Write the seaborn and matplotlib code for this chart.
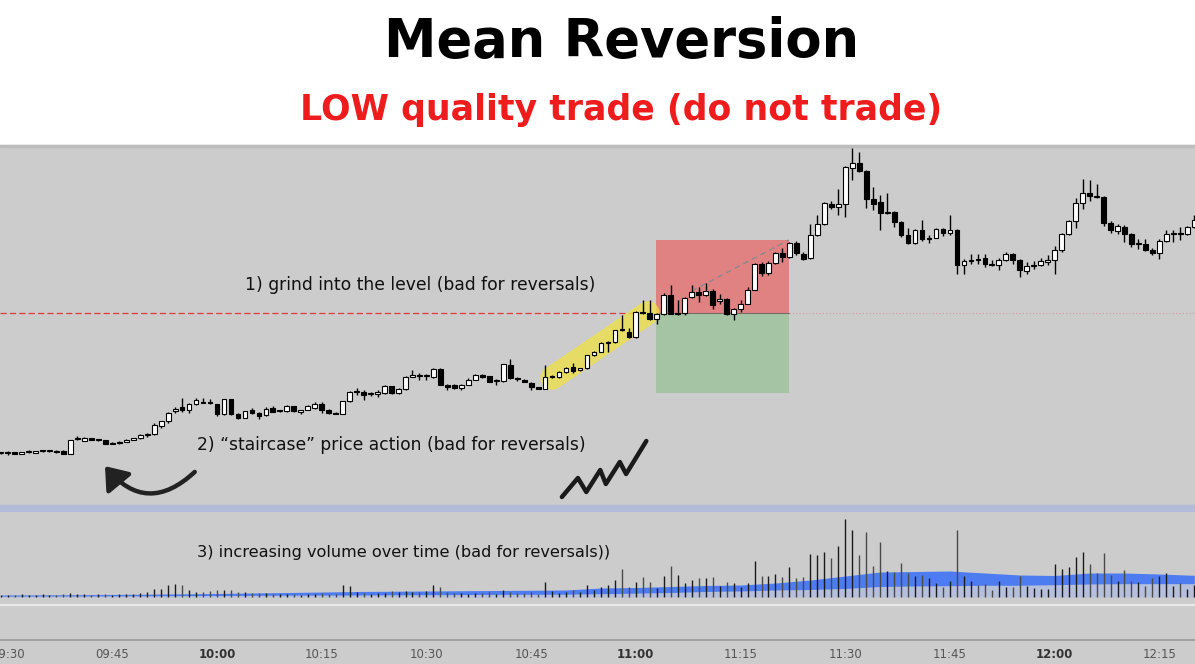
import numpy as np
import pandas as pd
import matplotlib
matplotlib.use("Agg")
import matplotlib.pyplot as plt
import seaborn as sns
from matplotlib.patches import Rectangle, FancyArrowPatch

# 1-minute candles, first one at 09:29 (minute -1 from the open)
opens = [52, 52, 53, 51, 53, 52, 54, 54, 54, 54, 51, 66, 64.5, 67, 65, 65, 61.5, 62, 63.5, 65.5,
         67, 70.5, 71, 79, 84, 94, 98, 95, 101, 103, 102.5, 101, 91, 106, 91, 87.5, 95, 92, 90, 97,
         94, 94, 99, 93, 95.5, 97, 101.5, 95, 92, 91.5, 104, 113, 113.5, 111, 111.5, 112, 119, 112, 116, 128.5,
         130, 129, 128, 136, 120, 120.5, 117, 120.5, 125.5, 130, 129, 124, 124, 140, 127, 125.5, 122, 118, 116.5, 128,
         128, 133, 138, 135, 137, 150, 153.5, 162, 163, 176, 173, 168, 193, 192.5, 186, 191.5, 210, 191.5, 192, 208,
         213, 210, 214.5, 204, 206, 191, 196.5, 201.5, 215.5, 241.5, 232.5, 242.5, 252.5, 248, 262.5, 251.5, 247, 270, 281, 301.5,
         298.5, 301.5, 337, 342, 334.5, 306, 303.5, 292, 293, 283.5, 270, 262, 275.5, 266, 267.5, 276.5, 272, 275, 240, 244.5,
         245.5, 247, 241, 240.5, 245.5, 251.5, 245, 234.5, 239.5, 240, 243.5, 245.5, 255, 271, 284, 302.5, 312, 309, 308, 282.5,
         274.5, 278.5, 271.5, 261, 261.5, 255, 252, 264, 271, 272, 271, 278]
highs = [53, 54, 53, 53, 55, 54, 55, 54.5, 55, 55, 65, 69, 68.5, 67.5, 66, 65, 63, 64, 66, 67.5,
         71, 72, 82, 84.5, 93, 98, 107, 102, 107, 107, 106, 101, 106.5, 106.5, 92, 94.5, 97, 93, 98, 99,
         95, 100, 99.5, 95.5, 100, 103, 103, 96, 93, 104.5, 114, 117, 115, 113, 115, 120, 119, 117, 129, 135,
         132, 131, 137, 137, 121, 121, 121, 127, 131, 131, 129.5, 126, 141.5, 146, 128, 126, 123, 118.5, 140, 130,
         134, 138, 142, 137.5, 150.5, 154, 163, 164, 175.5, 190, 177, 194, 205, 205, 192, 212, 220, 205, 208, 220,
         218, 222, 216, 211, 207, 197, 205, 218, 242, 243, 244, 253, 257, 263.5, 264, 253, 281, 290, 303.5, 304,
         316, 339, 357, 353, 335, 318, 310, 312, 294, 284, 277, 276, 285, 270, 277, 277, 290, 276, 246.5, 251.5,
         251.5, 251, 245, 247, 253, 252, 246, 243, 244, 247, 250, 259, 272, 285, 307, 326.5, 325, 321.5, 309, 284,
         281, 280, 272, 266.5, 266, 257, 266, 275, 275, 278, 279, 290]
lows = [51, 50, 51, 51, 52, 52, 53, 53.5, 52, 51, 51, 65, 64, 65, 64, 61, 61, 61.5, 63, 65,
        66.5, 68, 70.5, 77, 82, 92, 93, 92, 100, 102, 101.5, 89, 90, 90.5, 86, 87, 91.5, 86, 89, 93,
        93, 93, 93.5, 91.5, 95, 96.5, 92, 91.5, 91, 91, 103, 110, 105, 109, 108, 111, 111.5, 111.5, 115.5, 128,
        125, 125, 127.5, 120, 115, 116.5, 115.5, 120, 125, 127, 123, 120, 123, 126, 124, 123, 115.5, 116.5, 116, 127,
        127, 132.5, 132, 134.5, 136, 149, 153, 153, 162.5, 174.5, 167, 167.5, 191, 185.5, 181.5, 190, 191, 190, 190, 207,
        203, 209, 196.5, 201, 190.5, 185, 193, 201, 215, 229.5, 230, 241, 243, 247, 250, 245.5, 246, 269, 280, 296,
        290, 288, 325, 333.5, 297, 295, 275, 291, 278, 268, 261.5, 261, 264, 262, 267, 269.5, 270, 231.5, 231.5, 241.5,
        241.5, 238, 239.5, 235, 244, 241.5, 228, 231.5, 236, 239.5, 240, 231.5, 253.5, 270, 277.5, 296.5, 304, 307, 279, 272,
        271.5, 263, 258.5, 256.5, 254, 250, 246.5, 263, 263, 265, 270, 277]
closes = [52, 52.5, 51, 53, 53, 54, 54, 54, 53, 51, 65, 66, 67, 65, 65.5, 61, 62, 63.5, 65.5, 67,
          70.5, 71, 80, 84, 92, 96.5, 95, 101, 105, 102.5, 102, 91, 106, 91, 87.5, 94, 92, 89.5, 96.5, 93.5,
          94.5, 99, 94, 95, 99, 101.5, 95, 92, 91.5, 104, 113, 113.5, 110.5, 111.5, 113, 119, 112, 116.5, 128, 130,
          129, 129.5, 136, 120.5, 118.5, 117, 120.5, 125.5, 130, 128, 123.5, 124.5, 141, 127, 126, 123.5, 118, 116.5, 128, 128.5,
          133, 137, 134, 137, 150, 153, 162, 163.5, 175, 175, 168, 193, 192, 186.5, 191.5, 210, 191.5, 192, 207.5, 213,
          210, 214, 200.5, 206, 191, 196.5, 201.5, 215, 241.5, 232.5, 242.5, 252.5, 248, 262, 252, 246.5, 270, 281, 302.5, 298.5,
          301.5, 338, 342, 334.5, 306, 301.5, 292, 293, 283.5, 270, 262, 275.5, 266, 267.5, 276.5, 272, 275, 240, 244.5, 245.5,
          245, 241, 240.5, 245.5, 251.5, 245, 235, 239.5, 240, 244.5, 245.5, 255, 271, 284, 302, 312, 309, 308, 282.5, 275,
          279, 271.5, 261, 261.5, 255, 252, 264, 271, 272, 271, 278, 285]
volumes = [2, 2, 2, 3, 2, 2, 3, 2, 2, 3, 4, 3, 3, 2, 3, 3, 2, 3, 3, 3,
           4, 5, 8, 8, 12, 13, 12, 7, 5, 5, 6, 7, 7, 7, 5, 5, 4, 4, 4, 3,
           3, 3, 3, 2, 3, 3, 4, 3, 3, 12, 11, 5, 4, 3, 4, 4, 6, 5, 6, 5,
           5, 6, 12, 10, 5, 4, 4, 3, 4, 4, 5, 3, 7, 5, 4, 4, 5, 3, 15, 6,
           4, 5, 7, 5, 12, 7, 10, 12.3, 17.3, 28.3, 9.7, 14.7, 20, 15, 8.7, 20.7, 31.3, 22.3, 14, 17.3,
           19, 19, 19.7, 11.3, 14.7, 14, 9.7, 14, 36.3, 21.3, 20.7, 23.3, 20, 30, 19, 20, 43.3, 42.3, 45, 39,
           51.3, 78, 67.3, 42.3, 64.7, 31.3, 55.3, 25.7, 24.7, 34, 24, 20.7, 22.3, 19, 14, 10, 15.7, 67.3, 21.3, 15.7,
           12.3, 13, 7.3, 16.3, 9.7, 9.7, 20.7, 11.3, 9, 8, 8.3, 33, 28, 30, 40, 45.3, 33.3, 24, 44, 22.3,
           15.7, 26.7, 15.7, 15, 10.7, 19, 21.3, 24, 10.7, 14, 8, 12.3]

# volume average band, read every few minutes
band_minutes = [-1, 10, 20, 30, 40, 50, 60, 70, 80, 85, 90, 95, 100, 105, 110, 115, 120, 125, 130,
                135, 140, 145, 150, 155, 160, 165, 170]
band_top = [2.0, 2.3, 2.8, 3.5, 4.5, 5.5, 6.0, 6.5, 7.0, 9.0, 9.5, 10.5, 11.5, 12.0, 14.0, 17.0, 21.0,
            25.0, 25.5, 26.0, 24.0, 22.0, 21.5, 24.0, 24.0, 23.0, 21.7]
band_bottom = [0.8, 1.0, 1.2, 1.5, 1.8, 2.0, 2.3, 2.6, 2.8, 3.3, 3.8, 4.5, 5.5, 6.0, 7.0, 7.5, 8.5,
               10.5, 11.0, 11.3, 11.7, 11.7, 12.3, 13.0, 13.3, 13.3, 13.3]

tick_minutes = [0, 15, 30, 45, 60, 75, 90, 105, 120, 135, 150, 165]
tick_labels = ["09:30", "09:45", "10:00", "10:15", "10:30", "10:45",
               "11:00", "11:15", "11:30", "11:45", "12:00", "12:15"]

level = 192
risk_top, target_bottom = 265, 112
trade_start, trade_end = 92.9, 111.9

df = pd.DataFrame({"open": opens, "high": highs, "low": lows, "close": closes, "volume": volumes})
df["minute"] = np.arange(len(df)) - 1
df["up"] = df["close"] >= df["open"]

sns.set_theme(style="white")
plt.rcParams["font.family"] = ["DejaVu Sans"]

GRAY = "#cccccc"
fig = plt.figure(figsize=(11.95, 6.64), dpi=100)
fig.patch.set_facecolor("white")
fig.patches.append(Rectangle((0, 0), 1, 519 / 664, transform=fig.transFigure, color=GRAY, zorder=-5))
fig.patches.append(Rectangle((0, 517 / 664), 1, 2 / 664, transform=fig.transFigure, color="#bdbdbd", zorder=-4))
# separator between panes
fig.patches.append(Rectangle((0, 152 / 664), 1, 7 / 664, transform=fig.transFigure, color="#b3bbd9", zorder=-4))

xlim = (-1.09, 170.1)

# ---- price pane ----
ax = fig.add_axes([0, 159 / 664, 1, 360 / 664])
ax.set_facecolor(GRAY)
ax.set_xlim(*xlim)
ax.set_ylim(0, 360)
ax.axis("off")

ax.add_patch(Rectangle((trade_start, level), trade_end - trade_start, risk_top - level,
                       color="#e08282", zorder=1, lw=0))
ax.add_patch(Rectangle((trade_start, target_bottom), trade_end - trade_start, level - target_bottom,
                       color="#a4c4a3", zorder=1, lw=0))
ax.plot([trade_start, trade_end], [level, level], color="#7a6a6a", lw=0.8, zorder=2)
ax.plot([xlim[0], trade_start], [level, level], color="#e23a3a", lw=0.9, ls=(0, (5, 2.5)), zorder=2)
ax.plot([trade_end, xlim[1]], [level, level], color="#e07070", lw=0.8, ls=(0, (1, 2)), alpha=0.6, zorder=2)
sns.lineplot(x=[98.0, 111.9], y=[214, 265], ax=ax, color="#8a8a8a", lw=1, linestyle=(0, (4, 3)), zorder=2)

# yellow highlight of the grind
ax.plot([78.0, 91.7], [127, 192], color="#ece04c", lw=17, alpha=0.8, solid_capstyle="round", zorder=2)

# candles
ax.vlines(df["minute"], df["low"], df["high"], color="black", lw=1, zorder=3)
body_low = np.minimum(df["open"], df["close"])
body_h = np.maximum((df["close"] - df["open"]).abs(), 0.8)
ax.bar(df["minute"], body_h, bottom=body_low, width=0.68,
       color=np.where(df["up"], "white", "black"), edgecolor="black", lw=0.8, zorder=4)

txt = dict(fontsize=12.3, color="#111111", va="center", ha="left", zorder=6)
ax.text(34.0, 220, "1) grind into the level (bad for reversals)", **txt)
ax.text(27.1, 60, "2) \u201cstaircase\u201d price action (bad for reversals)", **txt)

arrow = FancyArrowPatch((27.1, 35), (13.7, 41), connectionstyle="arc3,rad=-0.55",
                        arrowstyle="-|>,head_length=8,head_width=6", color="#222222", lw=3.2,
                        mutation_scale=1.6, zorder=6)
ax.add_patch(arrow)

squiggle_x = [79.4, 81.7, 82.9, 84.9, 85.7, 87.7, 88.6, 91.5]
squiggle_y = [8, 27, 13, 35, 21, 43, 31, 64]
ax.plot(squiggle_x, squiggle_y, color="#1a1a1a", lw=3.2, solid_joinstyle="round",
        solid_capstyle="round", zorder=6)

# ---- volume pane ----
vax = fig.add_axes([0, 24 / 664, 1, 128 / 664])
vax.set_facecolor(GRAY)
vax.set_xlim(*xlim)
vax.set_ylim(-43, 85)
for s in ["top", "left", "right"]:
    vax.spines[s].set_visible(False)
vax.spines["bottom"].set_color("#9a9a9a")
vax.spines["bottom"].set_linewidth(1.2)
vax.set_yticks([])
vax.axhline(-8, color="#e9e9e9", lw=1.6, zorder=1)
vax.fill_between(band_minutes, 0, band_bottom, color="#b6bfdc", lw=0, zorder=2)
vax.fill_between(band_minutes, band_bottom, band_top, color="#4d7cf0", lw=0, zorder=2)
vax.vlines(df["minute"], 0, df["volume"], colors=np.where(df["up"], "#1a1a1a", "#4a4a4a"),
           lw=1, zorder=3)
vax.text(27.1, 44, "3) increasing volume over time (bad for reversals))",
         **{**txt, "fontsize": 11.6})

vax.set_xticks(tick_minutes)
vax.set_xticklabels(tick_labels, fontsize=8.5, color="#555555")
for lab in vax.get_xticklabels():
    if lab.get_text().endswith(":00"):
        lab.set_fontweight("bold")
        lab.set_color("#333333")
vax.tick_params(axis="x", length=0, pad=6)

fig.text(0.52, 0.937, "Mean Reversion", fontsize=38, fontweight="bold", color="black",
         ha="center", va="center")
fig.text(0.52, 0.834, "LOW quality trade (do not trade)", fontsize=25, fontweight="bold",
         color="#ee1c1c", ha="center", va="center")

fig.savefig("out.png", dpi=100, facecolor=fig.get_facecolor())
